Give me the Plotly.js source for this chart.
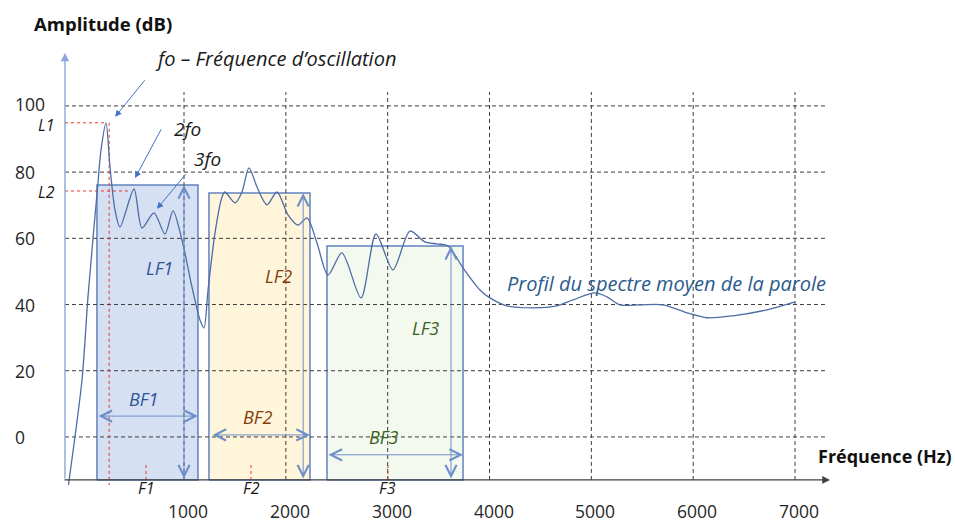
<!DOCTYPE html>
<html>
<head>
<meta charset="utf-8">
<script src="https://cdn.plot.ly/plotly-3.0.1.min.js"></script>
<style>html,body{margin:0;padding:0;background:#fff;}#chart{width:955px;height:522px;}</style>
</head>
<body>
<div id="chart"></div>
<script>
// ---------- data ----------
const freqHz = [-135, -2, 57, 155, 185, 234, 273, 322, 371, 509, 587, 705, 813, 892, 980, 1078, 1157, 1196,
  1236, 1304, 1373, 1402, 1501, 1569, 1638, 1717, 1815, 1913, 2021, 2119, 2208, 2306, 2414, 2551, 2738, 2885,
  3052, 3219, 3366, 3484, 3592, 3739, 3906, 4004, 4171, 4427, 4662, 4820, 5036, 5154, 5281, 5478, 5704, 5939,
  6136, 6391, 6725, 7000];
const ampDb = [-14.5, 17.2, 42.3, 76.7, 86.7, 94.9, 81.6, 68.6, 63.4, 74.9, 63.1, 67.7, 61.3, 68.3, 59.5, 45.3, 35.3, 32.9,
  44.4, 61.6, 72.5, 74.0, 70.7, 74.0, 81.3, 75.5, 70.1, 74.0, 67.1, 64.0, 66.2, 58.6, 48.9, 55.6, 42.0, 61.3,
  50.5, 62.2, 58.9, 58.3, 57.7, 51.1, 44.4, 42.0, 39.6, 39.0, 39.6, 41.4, 43.5, 42.3, 39.9, 39.9, 39.9, 37.5,
  36.0, 36.6, 38.4, 40.8];

const bandNames = ['F1', 'F2', 'F3'];
const bandLow = [145, 1245, 2404];
const bandHigh = [1137, 2237, 3740];
const bandLevel = [76.1, 73.7, 57.7];
const formantHz = [627, 1658, 3003];
const levelArrowHz = [1000, 2170, 3622];

const foHz = 265;
const L1dB = 94.9;
const L2dB = 74.3;
const L2Hz = 469;

const xTicks = [1000, 2000, 3000, 4000, 5000, 6000, 7000];
const xTickLabels = ['1000', '2000', '3000', '4000', '5000', '6000', '7000'];
const yTicks = [0, 20, 40, 60, 80, 100];
const yTickLabels = ['0', '20', '40', '60', '80', '100'];

// ---------- layout constants ----------
const AXIS_Y = -13.0;      // level of the frequency axis
const AXIS_X = -169;       // frequency of the amplitude axis
const GRID_TOP = 104.2;
const GRID_RIGHT = 7294;
const FONT = '"Open Sans", "Noto Sans", sans-serif';

const bandFill = ['rgba(208,220,241,0.88)', 'rgba(255,244,214,0.9)', 'rgba(242,248,237,0.9)'];
const bandText = ['#2f5597', '#843c0c', '#3b6121'];

const traces = [];

// bands (filled rectangles)
bandNames.forEach((n, i) => {
  traces.push({
    type: 'scatter', mode: 'lines', hoverinfo: 'skip',
    x: [bandLow[i], bandLow[i], bandHigh[i], bandHigh[i], bandLow[i]],
    y: [AXIS_Y, bandLevel[i], bandLevel[i], AXIS_Y, AXIS_Y],
    fill: 'toself', fillcolor: bandFill[i],
    line: {color: '#6282bf', width: 1.5}
  });
});

// dashed grid
const gx = [], gy = [];
yTicks.forEach(v => { gx.push(AXIS_X, GRID_RIGHT, null); gy.push(v, v, null); });
xTicks.forEach(v => { gx.push(v, v, null); gy.push(AXIS_Y, GRID_TOP, null); });
traces.push({type: 'scatter', mode: 'lines', x: gx, y: gy, hoverinfo: 'skip', connectgaps: false,
  line: {color: '#3c3c3c', width: 1, dash: '4px,3px'}});

// red dotted guide lines
const rx = [AXIS_X, foHz - 40, null, foHz, foHz, null, AXIS_X, L2Hz, null];
const ry = [L1dB, L1dB, null, L1dB, -14.5, null, L2dB, L2dB, null];
formantHz.forEach(f => { rx.push(f, f, null); ry.push(-8.5, AXIS_Y - 0.5, null); });
traces.push({type: 'scatter', mode: 'lines', x: rx, y: ry, hoverinfo: 'skip',
  line: {color: '#e8382e', width: 1, dash: 'dot'}});

// spectrum curve
traces.push({type: 'scatter', mode: 'lines', x: freqHz, y: ampDb, hoverinfo: 'skip',
  line: {color: '#4d6ca6', width: 1.3, shape: 'spline', smoothing: 0.8}});

// ---------- annotations ----------
const ann = [];
function txt(x, y, text, opt) {
  ann.push(Object.assign({x: x, y: y, xref: 'x', yref: 'y', text: text, showarrow: false,
    font: {family: FONT, size: 18, color: '#1a1a1a'}}, opt || {}));
}
function arrow(x0, y0, x1, y1, opt) {
  ann.push(Object.assign({x: x1, y: y1, ax: x0, ay: y0, xref: 'x', yref: 'y', axref: 'x', ayref: 'y',
    text: '', showarrow: true, arrowhead: 2, arrowsize: 1, arrowwidth: 1, arrowcolor: '#4472c4',
    standoff: 0, startstandoff: 0}, opt || {}));
}

// axes
arrow(-189, AXIS_Y, 7344, AXIS_Y, {arrowcolor: '#404040', arrowwidth: 1.3, arrowhead: 2, arrowsize: 1.2});
arrow(AXIS_X, AXIS_Y, AXIS_X, 116.0, {arrowcolor: '#8ca7d9', arrowwidth: 1.4, arrowhead: 2, arrowsize: 1.2});

// tick labels
yTicks.forEach((v, i) => txt(-680, v + (v === 100 ? 0.5 : 0), yTickLabels[i],
  {xanchor: 'left', font: {family: FONT, size: 17.5, color: '#262626'}}));
xTicks.forEach((v, i) => txt(v + 40, -22.4, xTickLabels[i], {font: {family: FONT, size: 17.5, color: '#262626'}}));

// axis titles
txt(-493, 124.8, '<b>Amplitude (dB)</b>', {xanchor: 'left', font: {family: FONT, size: 18.5, color: '#111'}});
txt(7206, -5.7, '<b>Fréquence (Hz)</b>', {xanchor: 'left', font: {family: FONT, size: 18, color: '#111'}});

// harmonic annotations
txt(694, 114.2, '<i>fo – Fréquence d’oscillation</i>', {xanchor: 'left', font: {family: FONT, size: 20, color: '#1a1a1a'}});
txt(882, 93.1, '<i>2fo</i>', {xanchor: 'left', font: {family: FONT, size: 19, color: '#1a1a1a'}});
txt(1078, 84.0, '<i>3fo</i>', {xanchor: 'left', font: {family: FONT, size: 19, color: '#1a1a1a'}});
arrow(626, 108.2, 323, 96.7, {arrowhead: 2, arrowsize: 1.3});
arrow(784, 93.4, 519, 78.2, {arrowhead: 2, arrowsize: 1.3});
arrow(1029, 79.8, 734, 68.9, {arrowhead: 2, arrowsize: 1.3});

txt(-454, 94.2, '<i>L1</i>', {xanchor: 'left', font: {family: FONT, size: 16, color: '#1a1a1a'}});
txt(-454, 74.0, '<i>L2</i>', {xanchor: 'left', font: {family: FONT, size: 16, color: '#1a1a1a'}});

// band labels and arrows
const lfPos = [[755, 51.1], [1923, 48.6], [3376, 32.9]];
const bfPos = [[607, 11.5], [1726, 6.0], [2954, 0.0]];
const bfY = [6.3, 0.6, -5.4];
bandNames.forEach((n, i) => {
  arrow(levelArrowHz[i], AXIS_Y, levelArrowHz[i], bandLevel[i],
    {arrowcolor: '#6f8fca', arrowhead: 5, startarrowhead: 5, arrowside: 'end+start', arrowsize: 2.2, startarrowsize: 2.2});
  arrow(bandLow[i] + (i === 1 ? 20 : 0), bfY[i], bandHigh[i], bfY[i],
    {arrowcolor: '#6f8fca', arrowhead: 5, startarrowhead: 5, arrowside: 'end+start', arrowsize: 2.2, startarrowsize: 2.2});
  txt(lfPos[i][0], lfPos[i][1], '<i>L' + n + '</i>', {font: {family: FONT, size: 18, color: bandText[i]}});
  txt(bfPos[i][0], bfPos[i][1], '<i>B' + n + '</i>', {font: {family: FONT, size: 18, color: bandText[i]}});
  txt(formantHz[i], -15.5, '<i>' + n + '</i>', {font: {family: FONT, size: 16, color: '#1a1a1a'}});
});

txt(4152, 46.5, '<i>Profil du spectre moyen de la parole</i>', {xanchor: 'left', font: {family: FONT, size: 20, color: '#2b5a8c'}});

const layout = {
  width: 955, height: 522,
  margin: {l: 0, r: 0, t: 0, b: 0, pad: 0},
  paper_bgcolor: '#ffffff', plot_bgcolor: '#ffffff',
  showlegend: false,
  xaxis: {range: [-807, 8571], visible: false, fixedrange: true},
  yaxis: {range: [-25.7, 132.0], visible: false, fixedrange: true},
  annotations: ann
};

Plotly.newPlot('chart', traces, layout, {displayModeBar: false, staticPlot: true});
</script>
</body>
</html>
